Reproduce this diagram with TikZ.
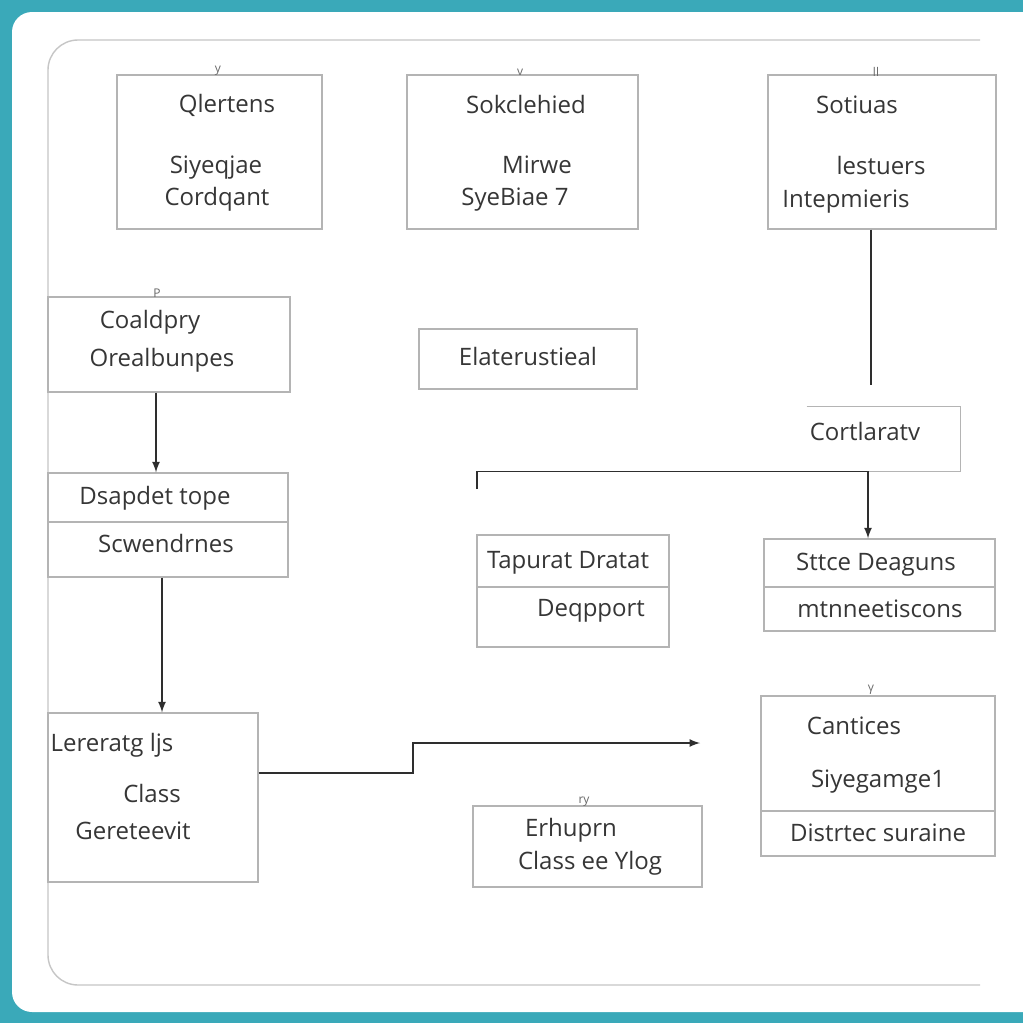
\documentclass[tikz,border=0pt]{standalone}
\usepackage{fontspec}
\setmainfont{Open Sans}
\usetikzlibrary{positioning, calc}
\usepackage{xcolor}
\definecolor{frameTeal}{HTML}{3AA9B9}
\definecolor{boxGray}{HTML}{B4B4B4}
\definecolor{inkGray}{HTML}{363636}
\definecolor{lineGray}{HTML}{2E2E2E}

\begin{document}
\begin{tikzpicture}[
    x=0.5pt, y=-0.5pt,
    box/.style={draw=boxGray, line width=0.7pt, inner sep=0pt},
    boxline/.style={draw=boxGray, line width=0.7pt},
    txt/.style={font=\fontsize{12}{14}\selectfont, text=inkGray, inner sep=0pt, text height=8.6pt, text depth=0pt},
    glyph/.style={font=\fontsize{6}{7}\selectfont, text=inkGray!75, inner sep=0pt},
    arr/.style={->, >=latex, thick, draw=lineGray},
    link/.style={thick, draw=lineGray},
    outer/.style={draw=gray!45, line width=0.7pt, rounded corners=15pt}
]
\useasboundingbox (0,0) rectangle (1023,1023);

% Background and frame
\fill[frameTeal] (0,0) rectangle (1023,1023);
\fill[white, rounded corners=10pt] (12,12) rectangle (1045,1012);
\draw[outer] (980,40) -- (48,40) -- (48,985) -- (980,985);

% Top row
\node[box, minimum width=102.5pt, minimum height=77pt] (qlertens) at (219.5,152) {};
\node[txt] (t_qlertens) at (227,104) {Qlertens};
\node[txt] (t_siyeq) at (216,165) {Siyeqjae};
\node[txt] (t_cordq) at (217,197) {Cordqant};
\node[glyph] (g_qlertens) at (218,71) {y};

\node[box, minimum width=115.5pt, minimum height=77pt] (sokcle) at (522.5,152) {};
\node[txt] (t_sokcle) at (526,105) {Sokclehied};
\node[txt] (t_mirwe) at (537,165) {Mirwe};
\node[txt] (t_syebiae) at (515,197) {SyeBiae 7};
\node[glyph] (g_sokcle) at (520,72) {v};

\node[box, minimum width=114pt, minimum height=77pt] (sotiuas) at (882,152) {};
\node[txt] (t_sotiuas) at (857,105) {Sotiuas};
\node[txt] (t_lestuers) at (881,166) {lestuers};
\node[txt] (t_intep) at (846,199) {Intepmieris};
\node[glyph] (g_sotiuas) at (876,72) {ll};

% Middle row
\node[box, minimum width=121pt, minimum height=47.5pt] (coaldpry) at (169,344.5) {};
\node[txt] (t_coaldpry) at (150,320) {Coaldpry};
\node[txt] (t_oreal) at (162,358) {Orealbunpes};
\node[glyph] (g_coaldpry) at (157,293) {P};

\node[box, minimum width=109pt, minimum height=30pt] (elater) at (528,359) {};
\node[txt] (t_elater) at (528,357) {Elaterustieal};

\node[minimum width=76.5pt, minimum height=32pt, inner sep=0pt] (cortlaratv) at (883.5,439) {};
\draw[boxline] (cortlaratv.north west) -- (cortlaratv.north east) -- (cortlaratv.south east) -- (cortlaratv.south west);
\node[txt] (t_cortlaratv) at (865,432) {Cortlaratv};

% Split boxes
\node[box, minimum width=120pt, minimum height=24.5pt] (dsapdet) at (168,497.5) {};
\node[box, minimum width=120pt, minimum height=27.5pt] (scwend) at (168,549.5) {};
\node[txt] (t_dsapdet) at (155,496) {Dsapdet tope};
\node[txt] (t_scwend) at (166,544) {Scwendrnes};

\node[box, minimum width=96pt, minimum height=26pt] (tapurat) at (573,561) {};
\node[box, minimum width=96pt, minimum height=30pt] (deqpport) at (573,617) {};
\node[txt] (t_tapurat) at (568,560) {Tapurat Dratat};
\node[txt] (t_deqpport) at (591,608) {Deqpport};

\node[box, minimum width=115.5pt, minimum height=24pt] (sttce) at (879.5,563) {};
\node[box, minimum width=115.5pt, minimum height=22pt] (mtnne) at (879.5,609) {};
\node[txt] (t_sttce) at (876,562) {Sttce Deaguns};
\node[txt] (t_mtnne) at (880,609) {mtnneetiscons};

% Bottom row
\node[box, minimum width=105pt, minimum height=84.5pt] (lererat) at (153,797.5) {};
\node[txt] (t_lererat) at (112,743) {Lereratg ljs};
\node[txt] (t_class) at (152,794) {Class};
\node[txt] (t_gerete) at (133,831) {Gereteevit};

\node[box, minimum width=114.5pt, minimum height=40.5pt] (erhuprn) at (587.5,846.5) {};
\node[txt] (t_erhuprn) at (571,828) {Erhuprn};
\node[txt] (t_classee) at (590,861) {Class ee Ylog};
\node[glyph] (g_erhuprn) at (584,802) {ry};

\node[box, minimum width=117pt, minimum height=57.5pt] (cantices) at (878,753.5) {};
\node[box, minimum width=117pt, minimum height=22.5pt] (distrtec) at (878,833.5) {};
\node[txt] (t_cantices) at (854,726) {Cantices};
\node[txt] (t_siyeg) at (878,779) {Siyegamge1};
\node[txt] (t_distrtec) at (878,833) {Distrtec suraine};
\node[glyph] (g_cantices) at (871,690) {γ};

% Connections
\coordinate (sotEnd) at (871,385);
\draw[link] ([xshift=-5.5pt]sotiuas.south) -- (sotEnd);

\draw[arr] ([xshift=-6.5pt]coaldpry.south) -- ([xshift=-6.5pt]coaldpry.south |- dsapdet.north);
\draw[arr] ([xshift=-3pt]scwend.south) -- ([xshift=-3pt]scwend.south |- lererat.north);

\coordinate (tapTick) at (477,489);
\draw[arr] (tapTick) |- ([xshift=-7.75pt]cortlaratv.south) -- ([xshift=-7.75pt]cortlaratv.south |- sttce.north);

\coordinate (lerStep) at (413,743);
\coordinate (lerEnd) at (700,743);
\draw[arr] ([yshift=12.25pt]lererat.east) -| (lerStep) -- (lerEnd);

\end{tikzpicture}
\end{document}
